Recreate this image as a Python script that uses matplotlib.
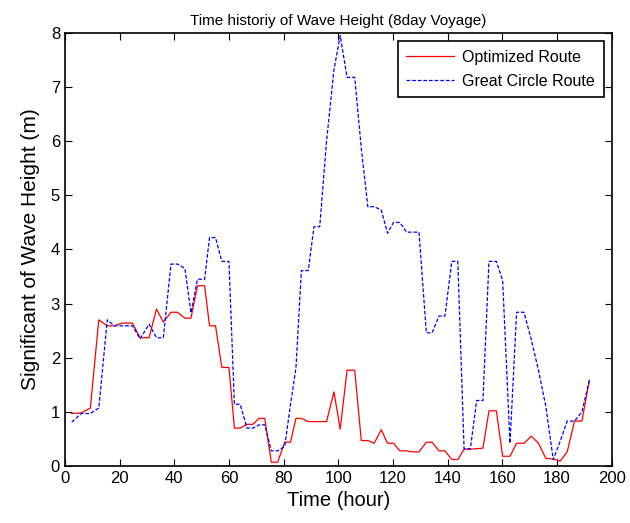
import numpy as np
import matplotlib
matplotlib.use('Agg')
import matplotlib.pyplot as plt

plt.rcParams['font.family'] = ['Liberation Sans', 'DejaVu Sans']

# time stamps (hour) shared by both routes
time_h = [2.5, 6, 9.3, 12.4, 15.5, 18, 21, 24.7, 27.5, 30.8,
          33.5, 36, 38.8, 41.2, 43.9, 46.1, 48.5, 51.1, 52.9, 55.1,
          57.4, 60, 62, 64.1, 66.6, 68.8, 71, 73.1, 75.5, 77.8,
          80.4, 82.5, 84.5, 86.5, 89, 91.1, 93.2, 95.7, 98.4, 100.7,
          103.2, 106, 108.4, 110.8, 113.1, 115.7, 118, 120.2, 122.5, 125,
          127.3, 129.5, 132.2, 134.3, 136.8, 139, 141.5, 143.7, 146, 148.3,
          150.6, 152.9, 155.1, 157.8, 160.1, 162.8, 165.2, 167.9, 170.6, 173.2,
          175.9, 178.6, 181.1, 183.7, 186.4, 189.1, 191.8]

optimized = [0.97, 0.98, 1.07, 2.70, 2.59, 2.59, 2.64, 2.64, 2.37, 2.37,
             2.90, 2.66, 2.84, 2.84, 2.73, 2.73, 3.33, 3.33, 2.59, 2.59,
             1.82, 1.82, 0.70, 0.70, 0.77, 0.77, 0.88, 0.88, 0.07, 0.07,
             0.44, 0.44, 0.88, 0.88, 0.82, 0.82, 0.82, 0.82, 1.37, 0.68,
             1.77, 1.77, 0.47, 0.47, 0.42, 0.67, 0.42, 0.42, 0.28, 0.28,
             0.26, 0.26, 0.44, 0.44, 0.28, 0.28, 0.12, 0.12, 0.31, 0.31,
             0.32, 0.33, 1.02, 1.02, 0.18, 0.18, 0.42, 0.42, 0.55, 0.42,
             0.14, 0.13, 0.09, 0.26, 0.83, 0.83, 1.58]

great_circle = [0.81, 0.97, 0.97, 1.07, 2.70, 2.59, 2.59, 2.59, 2.35, 2.62,
                2.37, 2.37, 3.73, 3.73, 3.65, 2.83, 3.45, 3.45, 4.22, 4.22,
                3.78, 3.78, 1.14, 1.14, 0.70, 0.70, 0.76, 0.76, 0.28, 0.28,
                0.36, 1.13, 1.81, 3.61, 3.61, 4.42, 4.42, 6.00, 7.32, 7.95,
                7.18, 7.18, 5.87, 4.79, 4.79, 4.73, 4.30, 4.50, 4.50, 4.32,
                4.32, 4.32, 2.46, 2.46, 2.77, 2.77, 3.78, 3.78, 0.32, 0.32,
                1.21, 1.21, 3.78, 3.78, 3.43, 0.42, 2.84, 2.84, 2.33, 1.77,
                1.10, 0.12, 0.45, 0.83, 0.83, 1.00, 1.58]

fig = plt.figure(figsize=(6.3, 5.23), dpi=100)
ax = fig.add_axes([0.103, 0.109, 0.868, 0.828])

ax.plot(time_h, optimized, color='red', lw=0.9, label='Optimized Route')
ax.plot(time_h, great_circle, color='blue', lw=0.9, ls=(0, (3, 1.5)),
        label='Great Circle Route')

ax.set_xlim(0, 200)
ax.set_ylim(0, 8)
ax.set_xticks(np.arange(0, 201, 20))
ax.set_yticks(np.arange(0, 9, 1))
ax.tick_params(direction='in', top=True, right=True, labelsize=12, length=5)
for s in ax.spines.values():
    s.set_linewidth(1.2)

ax.set_title('Time historiy of Wave Height (8day Voyage)', fontsize=11)
ax.set_xlabel('Time (hour)', fontsize=14.5)
ax.set_ylabel('Significant of Wave Height (m)', fontsize=15, labelpad=8)

leg = ax.legend(loc='upper right', fontsize=11.5, fancybox=False,
                framealpha=1, edgecolor='black', borderaxespad=0.5,
                handlelength=3, handletextpad=0.5, labelspacing=0.55,
                borderpad=0.55)
leg.get_frame().set_linewidth(1.2)

plt.savefig('out.png', dpi=100)
